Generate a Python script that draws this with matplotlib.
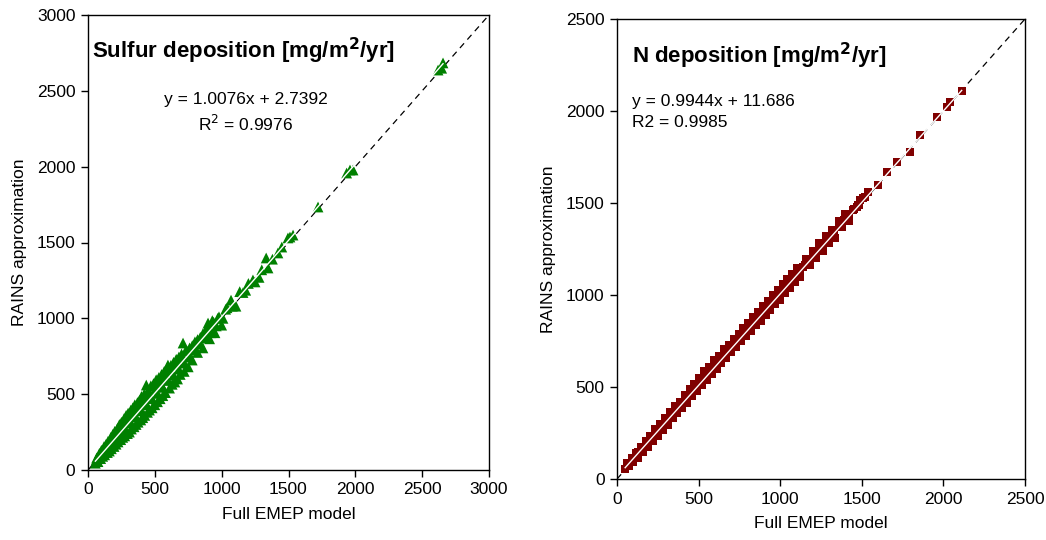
import matplotlib
matplotlib.use("Agg")
import matplotlib.pyplot as plt
import numpy as np

plt.rcParams['font.family'] = ['Liberation Sans', 'DejaVu Sans']

# ---- Sulfur deposition data (Full EMEP model vs RAINS approximation) ----
s_x = [55, 65, 75, 85, 95, 100, 110, 120, 125, 135, 145, 150, 160, 170, 175, 185, 195, 200,
       210, 220, 225, 235, 245, 250, 260, 270, 275, 285, 295, 300, 310, 320, 325, 335, 345,
       350, 360, 370, 375, 385, 395, 400, 410, 420, 425, 436, 445, 450, 460, 470, 480, 490,
       500, 510, 520, 530, 540, 550, 560, 570, 580, 590, 598, 610, 620, 630, 640, 650, 660,
       670, 680, 690, 700, 711, 720, 730, 750, 760, 780, 800, 820, 840, 860, 880, 898, 910,
       930, 950, 970, 1000, 1030, 1070, 1107, 1135, 1180, 1234, 1280, 1333, 1347, 1421,
       1496, 1511, 1534, 1721, 1935, 1960, 1983, 2619, 2646, 2656]
s_y = [45, 80, 55, 110, 75, 130, 90, 155, 100, 170, 115, 190, 125, 215, 140, 235, 155, 255,
       170, 275, 185, 300, 200, 315, 215, 340, 225, 360, 240, 375, 250, 395, 270, 410, 285,
       430, 300, 445, 315, 460, 330, 485, 345, 500, 360, 560, 380, 525, 395, 555, 410, 570,
       430, 595, 450, 610, 470, 630, 490, 650, 510, 670, 692, 540, 690, 565, 710, 580, 730,
       600, 745, 630, 765, 837, 650, 785, 680, 805, 725, 845, 775, 875, 805, 920, 969, 865,
       985, 905, 1000, 955, 1060, 1120, 1080, 1176, 1185, 1253, 1270, 1398, 1332, 1431,
       1530, 1536, 1549, 1734, 1958, 1978, 1978, 2637, 2649, 2684]
# points close to the fit line (fill the dense core of the cloud)
s_core_x = [60, 80, 100, 120, 140, 160, 180, 200, 220, 240, 260, 280, 300, 320, 340, 360,
            380, 400, 420, 440, 460, 480, 500, 520, 540, 560, 580, 600, 620, 640, 660, 680,
            700, 720, 740, 760, 780, 800, 820, 840, 860, 880, 900, 920, 940, 960, 980, 1010,
            1040, 1080, 1160, 1200, 1250, 1300, 1380, 1450]
s_core_y = [65, 75, 110, 115, 150, 160, 195, 190, 235, 230, 280, 270, 320, 310, 365, 350,
            405, 390, 445, 430, 490, 470, 530, 505, 575, 545, 615, 590, 655, 625, 700, 665,
            740, 705, 785, 745, 820, 790, 860, 830, 900, 870, 940, 905, 975, 950, 1010, 1000,
            1070, 1080, 1170, 1230, 1240, 1320, 1390, 1470]
s_slope, s_icpt = 1.0076, 2.7392

# ---- N deposition data ----
n_x = [50, 60, 75, 90, 100, 115, 130, 145, 160, 175, 190, 205, 220, 235, 250, 265, 280, 295,
       310, 325, 340, 355, 370, 385, 400, 415, 430, 445, 460, 475, 490, 505, 520, 535, 550,
       565, 580, 595, 610, 625, 640, 655, 670, 685, 700, 715, 730, 745, 760, 775, 790, 805,
       820, 835, 850, 865, 880, 895, 910, 925, 940, 955, 970, 985, 1000, 1015, 1030, 1045,
       1060, 1075, 1090, 1105, 1120, 1141, 1160, 1180, 1200, 1220, 1240, 1260, 1280, 1300,
       1320, 1336, 1360, 1380, 1400, 1420, 1447, 1470, 1490, 1520, 1540, 1600, 1652, 1714,
       1796, 1857, 1959, 2020, 2040, 2112]
n_y = [55, 85, 70, 115, 90, 140, 115, 175, 145, 205, 175, 235, 205, 270, 235, 300, 265, 330,
       295, 365, 330, 395, 360, 420, 385, 455, 415, 490, 450, 515, 480, 550, 510, 585, 540,
       610, 570, 645, 600, 670, 630, 705, 660, 730, 690, 760, 715, 790, 750, 820, 775, 850,
       805, 880, 835, 910, 860, 940, 890, 965, 920, 1000, 950, 1025, 975, 1060, 1010, 1085,
       1040, 1115, 1070, 1145, 1100, 1152, 1195, 1165, 1240, 1200, 1280, 1240, 1320, 1285,
       1355, 1310, 1400, 1370, 1440, 1405, 1462, 1480, 1515, 1534, 1560, 1598, 1670, 1725,
       1779, 1870, 1969, 2023, 2050, 2110]
n_core_x = [70, 100, 130, 160, 190, 220, 250, 280, 310, 340, 370, 400, 430, 460, 490, 520,
            550, 580, 610, 640, 670, 700, 730, 760, 790, 820, 850, 880, 910, 940, 970, 1000,
            1030, 1060, 1090, 1120, 1150, 1180, 1210, 1240, 1270, 1300, 1330, 1360, 1390,
            1420, 1450, 1480, 1510]
n_core_y = [85, 110, 145, 170, 205, 230, 265, 290, 325, 350, 385, 410, 445, 470, 505, 530,
            565, 590, 625, 650, 685, 710, 745, 770, 805, 830, 865, 890, 925, 950, 985, 1010,
            1045, 1070, 1105, 1130, 1165, 1190, 1225, 1250, 1285, 1310, 1345, 1370, 1405,
            1430, 1465, 1490, 1525]
n_slope, n_icpt = 0.9944, 11.686

s_ticks = [0, 500, 1000, 1500, 2000, 2500, 3000]
n_ticks = [0, 500, 1000, 1500, 2000, 2500]

FS = 12.5

fig = plt.figure(figsize=(10.46, 5.40), dpi=100)
ax1 = fig.add_axes([88/1046, 1-470/540, 401/1046, 455/540])
ax2 = fig.add_axes([617/1046, 1-479/540, 408/1046, 460/540])

def style(ax, ticks):
    ax.set_xlim(ticks[0], ticks[-1])
    ax.set_ylim(ticks[0], ticks[-1])
    ax.set_xticks(ticks)
    ax.set_yticks(ticks)
    ax.tick_params(direction='out', length=5, width=1, labelsize=FS, pad=4)
    for sp in ax.spines.values():
        sp.set_linewidth(1.0)
    ax.set_xlabel('Full EMEP model', fontsize=FS, labelpad=7)
    ax.set_ylabel('RAINS approximation', fontsize=FS, labelpad=7)

# Sulfur panel
style(ax1, s_ticks)
ax1.plot([0, 3000], [0, 3000], color='black', lw=0.9, dashes=(5, 4), zorder=1)
ax1.scatter(s_x + s_core_x, s_y + s_core_y, marker='^', s=60, color='#008000',
            edgecolors='none', zorder=2)
fx = np.array([min(s_x), max(s_x)])
ax1.plot(fx, s_slope*fx + s_icpt, color='white', lw=1.0, zorder=3)
ax1.text(30, 2760, 'Sulfur deposition [mg/m$^\\mathbf{2}$/yr]', fontsize=16, fontweight='bold',
         ha='left', va='center')
ax1.text(1180, 2445, 'y = 1.0076x + 2.7392', fontsize=FS, ha='center', va='center')
ax1.text(1180, 2280, 'R$^2$ = 0.9976', fontsize=FS, ha='center', va='center')

# N panel
style(ax2, n_ticks)
ax2.plot([0, 2500], [0, 2500], color='black', lw=0.9, dashes=(5, 4), zorder=1)
ax2.scatter(n_x + n_core_x, n_y + n_core_y, marker='s', s=34, color='#800000',
            edgecolors='none', zorder=2)
fx = np.array([min(n_x), max(n_x)])
ax2.plot(fx, n_slope*fx + n_icpt, color='white', lw=1.0, zorder=3)
ax2.text(90, 2300, 'N deposition [mg/m$^\\mathbf{2}$/yr]', fontsize=16, fontweight='bold',
         ha='left', va='center')
ax2.text(90, 2050, 'y = 0.9944x + 11.686', fontsize=FS, ha='left', va='center')
ax2.text(90, 1940, 'R2 = 0.9985', fontsize=FS, ha='left', va='center')

fig.savefig('out.png', dpi=100)
